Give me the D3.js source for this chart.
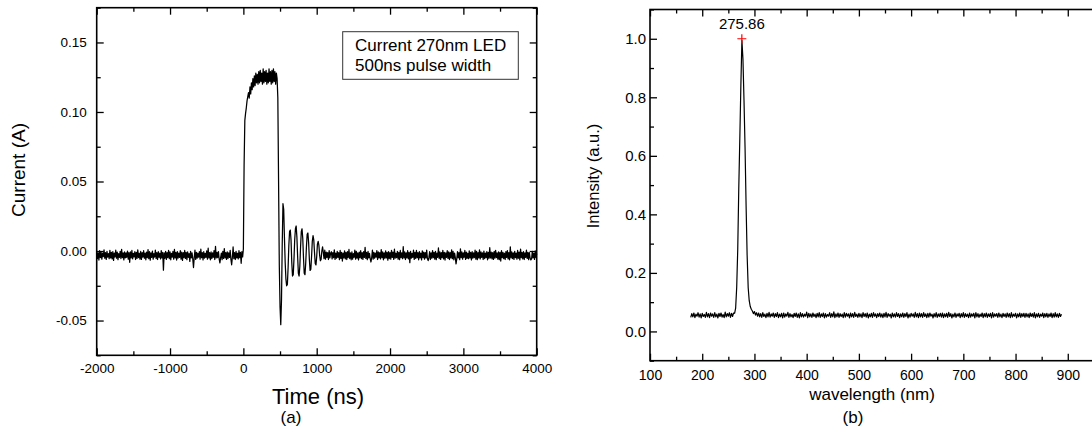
<!DOCTYPE html>
<html>
<head>
<meta charset="utf-8">
<script src="https://cdn.jsdelivr.net/npm/d3@7"></script>
<style>
  html, body { margin: 0; padding: 0; background: #fff; }
  svg { display: block; font-family: "Liberation Sans", Arial, sans-serif; }
  .tick text { fill: #000; }
</style>
</head>
<body>
<svg id="chart" width="1092" height="430"></svg>
<script>
// ---- (a) LED drive current, oscilloscope trace sampled every 10 ns ----
const pulseStartNs = -2000;
const pulseStepNs = 10;
const pulseCurrentMA = [
  -0.6,-5.4,-1.3,-6.5,0.2,-4.7,-0.9,-5.8,-1.6,-4.1,0.8,-5.2,-1.1,-6.0,-0.3,-4.4,-1.8,-5.5,0.5,-4.9,
  -1.0,-5.7,-0.4,-6.8,-1.5,-4.3,0.6,-5.1,-0.8,-6.2,-1.9,-4.6,-0.2,-5.4,1.2,-4.8,-1.3,-6.4,-0.7,-5.0,
  -1.4,-4.5,-0.1,-5.9,-1.2,-8.1,-0.6,-4.9,0.4,-5.6,-1.7,-4.2,-0.5,-6.1,-1.0,-5.3,0.9,-4.7,-1.6,-5.8,
  -0.3,-6.0,-1.1,-4.4,0.2,-5.2,-1.5,-6.3,-0.8,-4.8,1.0,-5.5,-0.4,-6.6,-1.3,-4.6,-0.1,-5.9,-1.9,-4.3,
  0.7,-5.4,-1.2,-6.1,-0.5,-4.5,-1.6,-5.7,0.3,-4.9,-0.9,-13.8,-1.4,-5.2,-0.2,-6.0,-1.1,-4.7,0.5,-5.5,
  -0.6,-6.3,-1.7,-4.4,-0.3,-5.8,1.1,-4.9,-1.0,-6.5,-0.4,-5.1,-1.5,-4.6,0.2,-5.9,-0.8,-6.7,-1.2,-4.8,
  0.4,-5.3,-1.0,-6.2,-0.6,-4.5,-1.8,-7.5,-0.2,-5.0,-1.3,-5.7,-11.9,-4.7,0.6,-6.0,-0.9,-5.2,-1.6,-4.4,
  -0.4,-5.9,1.3,-4.8,-1.1,-6.4,-0.5,-5.1,-1.7,-4.6,0.1,-5.8,2.0,-4.9,-1.2,-6.3,-0.7,-5.4,-1.4,-4.5,
  0.3,-6.1,3.4,-5.0,-1.0,-4.7,-0.4,-5.6,-8.6,-4.8,-1.5,-6.2,-0.2,-5.3,1.8,-4.9,-1.1,-6.0,-0.6,-5.4,
  -1.3,-4.6,0.5,-5.8,-9.9,-4.4,2.9,-5.5,-1.2,-6.1,-0.3,-4.9,-1.6,-5.7,0.2,-4.8,-1.0,-8.8,-0.5,-4.2,
  1.5,62,94,99,103,108,111,114,110,118,113,121,116,124,118,126,119,128,121,127,
  120,129,121,130,122,128,120,131,121,129,122,130,120,128,121,131,122,129,120,130,
  121,131,122,129,120,128,124,110,50,-10,-40,-53,-35,5,34,30,10,-8,-20,-25,
  -24,-12,4,14,15,8,-8,-18,-17,-6,8,16,18,10,-4,-16,-18,-11,3,14,
  16,9,-5,-16,-17,-9,3,12,13,6,-6,-14,-13,-4,7,11,8,-1,-9,-10,
  -4,5,7,4,-3,-7,-6,0,3,-1,-5.5,0.6,-5.9,-0.8,-4.6,-1.2,-6.1,0.3,-5.0,-1.4,
  -0.5,-5.7,-1.1,-4.8,0.9,-6.0,-1.6,-5.1,-0.3,-4.6,-1.2,-6.2,0.4,-5.3,-0.9,-7.2,-1.5,-4.9,0.1,-5.6,
  -1.0,-6.1,-0.4,-4.7,1.1,-5.4,-1.3,-6.3,-0.6,-5.8,-1.8,-4.5,0.7,-5.9,-0.2,-5.1,-1.4,-6.4,-0.8,-4.8,
  0.2,-5.5,-1.2,-6.0,-0.5,-4.6,2.6,-5.3,-1.0,-6.2,-0.3,-4.9,-1.7,-5.6,-7.9,-4.7,0.6,-5.9,-0.9,-5.2,
  -1.5,-4.4,0.3,-6.1,-0.7,-5.0,-1.1,-5.7,1.0,-4.8,-0.6,-6.3,-1.4,-5.2,0.1,-4.9,-1.0,-6.6,-0.4,-5.4,
  -1.2,-5.8,0.5,-4.6,-0.8,-6.0,1.3,-5.1,-1.6,-4.7,-0.2,-5.9,-1.0,-6.2,0.4,-4.8,-1.3,-5.5,3.1,-5.0,
  -0.6,-6.1,-1.4,-4.9,0.2,-5.6,-1.0,-8.4,-0.3,-5.2,-1.7,-4.6,0.6,-6.0,-0.9,-5.3,0.4,-4.8,-1.2,-6.3,
  -0.4,-5.0,-1.5,-6.4,0.1,-4.7,-0.8,-5.8,-1.1,-4.9,0.7,-5.5,-6.9,-4.6,-0.5,-6.1,-1.3,-5.2,0.3,-4.8,
  -1.0,-5.9,-0.2,-6.2,-1.6,-4.5,2.2,-5.4,-0.7,-6.0,-1.1,-4.8,0.5,-5.7,-0.9,-6.5,-1.4,-4.6,0.2,-5.3,
  -0.6,-6.1,-1.2,-4.9,0.8,-5.5,-0.3,-6.3,-1.5,-4.7,-9.3,-5.6,-0.4,-5.0,-1.1,-6.2,1.6,-4.8,-0.7,-5.8,
  -1.3,-4.5,0.4,-6.0,-0.8,-5.3,-1.6,-5.5,0.1,-4.9,-1.0,-6.4,-0.5,-5.1,-1.4,-4.7,0.6,-5.9,-0.2,-6.2,
  -1.1,-5.0,0.9,-5.7,-0.6,-4.6,-1.3,-6.1,-0.1,-5.4,-1.5,-4.8,-0.4,-6.3,-1.0,-5.2,2.4,-4.9,-0.8,-5.6,
  -1.2,-6.0,-0.3,-5.1,0.5,-4.7,-1.4,-5.9,-0.7,-6.2,-1.0,-7.2,0.2,-4.8,-0.9,-5.5,-1.6,-6.1,-0.4,-4.6,
  0.3,-5.7,-1.1,-6.3,3.0,-4.9,-0.6,-5.4,-1.3,-6.0,-0.2,-4.7,-1.5,-5.8,0.4,-5.2,-0.8,-6.4,1.4,-4.8,
  -1.0,-5.6,-0.5,-6.1,-1.4,-4.6,0.6,-5.3,-0.9,-6.2,-1.2,-4.9,-6.4,-5.7,-0.3,-5.0,-1.6,-6.0,0.1,-4.7,
  -1.9
];
const timeTicks = [-2000, -1000, 0, 1000, 2000, 3000, 4000];
const timeMinorTicks = [-1500, -500, 500, 1500, 2500, 3500];
const currentTicks = [-0.05, 0.00, 0.05, 0.10, 0.15];
const currentMinorTicks = [-0.075, -0.025, 0.025, 0.075, 0.125, 0.175];
const legendLines = ["Current 270nm LED", "500ns pulse width"];

// ---- (b) emission spectrum, sampled every 2 nm ----
const spectrumStartNm = 178;
const spectrumStepNm = 2;
const spectrumIntensity = [
  .048,.061,.050,.063,.047,.059,.052,.064,.049,.060,.046,.062,.051,.058,.048,.065,.050,.061,.047,.063,
  .052,.060,.048,.064,.050,.059,.046,.062,.051,.063,.049,.058,.047,.066,.050,.061,.052,.064,.048,.062,
  .051,.063,.062,.080,.150,.280,.490,.660,.840,.995,.930,.790,.630,.430,.260,.150,.105,.085,.076,.070,
  .061,.068,.056,.064,.052,.063,.050,.061,.048,.064,.051,.059,.047,.062,.050,.065,.049,.060,.052,.063,
  .048,.061,.051,.064,.047,.059,.050,.062,.046,.063,.049,.060,.052,.065,.048,.061,.050,.058,.047,.062,
  .051,.063,.048,.060,.046,.064,.050,.061,.049,.059,.052,.066,.047,.062,.050,.060,.048,.063,.051,.059,
  .047,.062,.050,.064,.048,.060,.051,.063,.046,.061,.049,.058,.052,.064,.048,.061,.050,.067,.047,.060,
  .050,.063,.048,.061,.051,.059,.047,.064,.049,.062,.052,.060,.046,.063,.050,.061,.048,.065,.051,.059,
  .048,.062,.050,.060,.047,.064,.051,.061,.049,.063,.046,.059,.050,.062,.048,.064,.052,.060,.047,.061,
  .051,.063,.049,.060,.047,.062,.050,.065,.048,.061,.052,.059,.046,.063,.050,.060,.049,.064,.051,.061,
  .047,.060,.050,.063,.048,.061,.051,.064,.046,.059,.049,.062,.052,.060,.048,.065,.050,.061,.047,.063,
  .050,.061,.048,.064,.051,.060,.047,.062,.049,.063,.052,.059,.046,.061,.050,.064,.048,.060,.051,.062,
  .049,.063,.047,.060,.050,.062,.048,.065,.051,.061,.046,.059,.050,.063,.048,.060,.052,.062,.047,.061,
  .050,.064,.048,.061,.051,.059,.047,.063,.049,.060,.052,.062,.046,.064,.050,.061,.048,.059,.051,.063,
  .047,.061,.050,.063,.048,.060,.051,.062,.046,.064,.049,.060,.052,.061,.048,.063,.050,.059,.047,.062,
  .051,.060,.048,.063,.050,.061,.047,.064,.049,.059,.052,.062,.046,.060,.050,.063,.048,.061,.051,.062,
  .048,.062,.050,.060,.047,.063,.051,.061,.049,.064,.046,.060,.050,.062,.048,.059,.052,.063,.047,.061,
  .050,.062,.048,.060,.051,.063,.047,.061,.049,.064,.050,.060,.048,.062,.051,.059
];
const peakWavelength = 275.86;
const peakIntensity = 1.0;
const wavelengthTicks = [100, 200, 300, 400, 500, 600, 700, 800, 900, 1000];
const wavelengthLabels = [100, 200, 300, 400, 500, 600, 700, 800, 900];
const wavelengthMinorTicks = [150, 250, 350, 450, 550, 650, 750, 850, 950];
const intensityTicks = [0.0, 0.2, 0.4, 0.6, 0.8, 1.0];
const intensityMinorTicks = [-0.1, 0.1, 0.3, 0.5, 0.7, 0.9, 1.1];

const svg = d3.select("#chart");

const pulseData = pulseCurrentMA.map((v, i) => ({ t: pulseStartNs + i * pulseStepNs, a: v / 1000 }));
const spectrumData = spectrumIntensity.map((v, i) => ({ w: spectrumStartNm + i * spectrumStepNm, v }));

// Draw a boxed frame with inward ticks on all four sides
function framedAxes(g, x, y, opt) {
  const [x0, x1] = x.range();
  const [y0, y1] = y.range(); // y0 bottom, y1 top
  const fmtNone = () => "";

  // minor ticks
  g.append("g").attr("transform", `translate(0,${y0})`)
    .call(d3.axisBottom(x).tickValues(opt.xMinor).tickSize(-opt.minor).tickSizeOuter(0).tickFormat(fmtNone));
  g.append("g").attr("transform", `translate(0,${y1})`)
    .call(d3.axisTop(x).tickValues(opt.xMinor).tickSize(-opt.minor).tickSizeOuter(0).tickFormat(fmtNone));
  g.append("g").attr("transform", `translate(${x0},0)`)
    .call(d3.axisLeft(y).tickValues(opt.yMinor).tickSize(-opt.minor).tickSizeOuter(0).tickFormat(fmtNone));
  g.append("g").attr("transform", `translate(${x1},0)`)
    .call(d3.axisRight(y).tickValues(opt.yMinor).tickSize(-opt.minor).tickSizeOuter(0).tickFormat(fmtNone));

  // major ticks with labels on bottom and left
  g.append("g").attr("class", "xlab").attr("transform", `translate(0,${y0})`)
    .call(d3.axisBottom(x).tickValues(opt.xTicks).tickSize(-opt.major).tickSizeOuter(0)
      .tickPadding(opt.xPad).tickFormat(d => opt.xLabels.includes(d) ? opt.xFmt(d) : ""));
  g.append("g").attr("transform", `translate(0,${y1})`)
    .call(d3.axisTop(x).tickValues(opt.xTicks).tickSize(-opt.major).tickSizeOuter(0).tickFormat(fmtNone));
  g.append("g").attr("class", "ylab").attr("transform", `translate(${x0},0)`)
    .call(d3.axisLeft(y).tickValues(opt.yTicks).tickSize(-opt.major).tickSizeOuter(0)
      .tickPadding(opt.yPad).tickFormat(opt.yFmt));
  g.append("g").attr("transform", `translate(${x1},0)`)
    .call(d3.axisRight(y).tickValues(opt.yTicks).tickSize(-opt.major).tickSizeOuter(0).tickFormat(fmtNone));

  g.selectAll(".domain").remove();
  g.selectAll(".tick line").attr("stroke", "#000").attr("stroke-width", 1.3);
  g.selectAll(".xlab text").attr("font-size", opt.fontX).attr("font-family", "Liberation Sans, Arial, sans-serif");
  g.selectAll(".ylab text").attr("font-size", opt.fontY).attr("font-family", "Liberation Sans, Arial, sans-serif");

  g.append("rect")
    .attr("x", x0).attr("y", y1)
    .attr("width", x1 - x0).attr("height", y0 - y1)
    .attr("fill", "none").attr("stroke", "#000").attr("stroke-width", 1.6);
}

// ---------------- panel (a) ----------------
const xA = d3.scaleLinear().domain([-2000, 4000]).range([96.7, 536.7]);
const yA = d3.scaleLinear().domain([-0.075, 0.175]).range([355.3, 7.7]);
const gA = svg.append("g");

gA.append("path")
  .datum(pulseData)
  .attr("fill", "none")
  .attr("stroke", "#000")
  .attr("stroke-width", 1.25)
  .attr("stroke-linejoin", "round")
  .attr("d", d3.line().x(d => xA(d.t)).y(d => yA(d.a)));

framedAxes(gA, xA, yA, {
  xTicks: timeTicks, xLabels: timeTicks, xMinor: timeMinorTicks,
  yTicks: currentTicks, yMinor: currentMinorTicks,
  major: 7, minor: 4, xPad: 8.5, yPad: 10,
  xFmt: d => String(d), yFmt: d => d.toFixed(2),
  fontX: 13.5, fontY: 13.5
});

// legend box
const legend = gA.append("g");
legend.append("rect")
  .attr("x", 342.7).attr("y", 31.7).attr("width", 175.6).attr("height", 47.6)
  .attr("fill", "#fff").attr("stroke", "#333").attr("stroke-width", 1);
legend.selectAll("text.leg")
  .data(legendLines)
  .join("text")
  .attr("class", "leg")
  .attr("x", 355)
  .attr("y", (d, i) => 50.7 + i * 20)
  .attr("font-size", 17)
  .text(d => d);

gA.append("text")
  .attr("transform", "translate(18.5,170) rotate(-90)")
  .attr("text-anchor", "middle")
  .attr("dy", "0.35em")
  .attr("font-size", 19)
  .text("Current (A)");

gA.append("text")
  .attr("x", 318).attr("y", 404)
  .attr("text-anchor", "middle")
  .attr("font-size", 22)
  .text("Time (ns)");

gA.append("text")
  .attr("x", 291).attr("y", 423)
  .attr("text-anchor", "middle")
  .attr("font-size", 17)
  .text("(a)");

// ---------------- panel (b) ----------------
const xB = d3.scaleLinear().domain([100, 1000]).range([650, 1120]);
const yB = d3.scaleLinear().domain([-0.1, 1.1]).range([360.7, 9.5]);
const gB = svg.append("g");

gB.append("path")
  .datum(spectrumData)
  .attr("fill", "none")
  .attr("stroke", "#000")
  .attr("stroke-width", 1.2)
  .attr("stroke-linejoin", "round")
  .attr("d", d3.line().x(d => xB(d.w)).y(d => yB(d.v)));

framedAxes(gB, xB, yB, {
  xTicks: wavelengthTicks, xLabels: wavelengthLabels, xMinor: wavelengthMinorTicks,
  yTicks: intensityTicks, yMinor: intensityMinorTicks,
  major: 7, minor: 4, xPad: 9, yPad: 4,
  xFmt: d => String(d), yFmt: d => d.toFixed(1),
  fontX: 14, fontY: 15
});

// peak marker
gB.append("path")
  .attr("transform", `translate(${xB(peakWavelength)},${yB(peakIntensity)})`)
  .attr("d", "M-4.5,0H4.5M0,-4.5V4.5")
  .attr("stroke", "#ff0000")
  .attr("stroke-width", 1.2);

gB.append("text")
  .attr("x", xB(peakWavelength))
  .attr("y", yB(peakIntensity) - 10)
  .attr("text-anchor", "middle")
  .attr("font-size", 15)
  .text(peakWavelength.toFixed(2));

gB.append("text")
  .attr("transform", "translate(593,176) rotate(-90)")
  .attr("text-anchor", "middle")
  .attr("dy", "0.35em")
  .attr("font-size", 16.5)
  .text("Intensity (a.u.)");

gB.append("text")
  .attr("x", 872).attr("y", 400)
  .attr("text-anchor", "middle")
  .attr("font-size", 17)
  .text("wavelength (nm)");

gB.append("text")
  .attr("x", 853).attr("y", 423)
  .attr("text-anchor", "middle")
  .attr("font-size", 17)
  .text("(b)");
</script>
</body>
</html>
